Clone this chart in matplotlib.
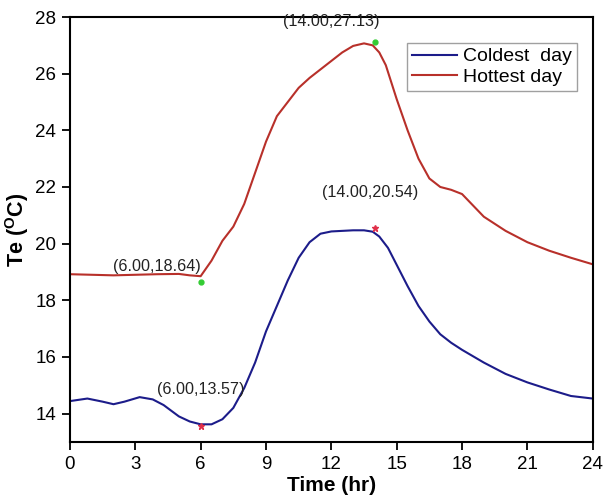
import numpy as np
import matplotlib
matplotlib.use('Agg')
import matplotlib.pyplot as plt

plt.rcParams['font.family'] = ['Liberation Sans', 'DejaVu Sans']
plt.rcParams['mathtext.fontset'] = 'custom'
plt.rcParams['mathtext.bf'] = 'Liberation Sans:bold'
plt.rcParams['mathtext.rm'] = 'Liberation Sans'

# Coldest day
t_cold = [0, 0.8, 1.5, 2, 2.5, 3.2, 3.8, 4.3, 5, 5.5, 6, 6.5, 7, 7.5, 8, 8.5, 9, 9.5,
          10, 10.5, 11, 11.5, 12, 13, 13.5, 13.9, 14.2, 14.6, 15, 15.5, 16, 16.5, 17, 17.5,
          18, 19, 20, 21, 22, 23, 24]
te_cold = [14.44, 14.53, 14.42, 14.33, 14.42, 14.58, 14.5, 14.3, 13.9, 13.72, 13.62, 13.62,
           13.8, 14.2, 14.9, 15.8, 16.9, 17.8, 18.7, 19.5, 20.05, 20.35, 20.43, 20.47, 20.47,
           20.42, 20.25, 19.85, 19.25, 18.5, 17.8, 17.25, 16.8, 16.5, 16.25, 15.8, 15.4,
           15.1, 14.85, 14.62, 14.53]

# Hottest day
t_hot = [0, 1, 2, 3, 4, 5, 5.5, 6, 6.5, 7, 7.5, 8, 8.5, 9, 9.5, 10, 10.5, 11, 12, 12.5, 13,
         13.5, 13.9, 14.2, 14.5, 15, 15.5, 16, 16.5, 17, 17.5, 18, 18.5, 19, 20, 21, 22, 23, 24]
te_hot = [18.92, 18.9, 18.88, 18.9, 18.92, 18.93, 18.88, 18.85, 19.4, 20.1, 20.6, 21.4,
          22.5, 23.6, 24.5, 25.0, 25.5, 25.85, 26.45, 26.75, 26.98, 27.07, 27.0, 26.75,
          26.3, 25.1, 24.0, 23.0, 22.3, 22.0, 21.9, 21.75, 21.35, 20.95, 20.45, 20.05, 19.75,
          19.5, 19.27]

# marked extremes
hot_pts = [(6.00, 18.64), (14.00, 27.13)]
cold_pts = [(6.00, 13.57), (14.00, 20.54)]
labels_xy = [(4.0, 19.2), (12.0, 27.85), (6.0, 14.85), (13.8, 21.8)]

fig = plt.figure(figsize=(6.03, 5.01), dpi=100)
ax = fig.add_axes([0.116, 0.118, 0.867, 0.848])

ax.plot(t_cold, te_cold, color='#1c1c8a', lw=1.5, label='Coldest  day')
ax.plot(t_hot, te_hot, color='#b8302a', lw=1.5, label='Hottest day')

for x, y in hot_pts:
    ax.plot(x, y, 'o', color='#33cc33', ms=3.5, zorder=5)
for x, y in cold_pts:
    ax.plot(x, y, '*', color='#e0304a', ms=5, zorder=5)

for (x, y), (lx, ly) in zip(hot_pts + cold_pts, labels_xy):
    ax.text(lx, ly, '(%.2f,%.2f)' % (x, y), ha='center', va='center', fontsize=11.6,
            color='#222222')

ax.set_xlim(0, 24)
ax.set_ylim(13, 28)
ax.set_xticks(np.arange(0, 25, 3))
ax.set_yticks(np.arange(14, 29, 2))
ax.tick_params(direction='out', length=6, width=1.3, labelsize=13.5, pad=4)
for s in ax.spines.values():
    s.set_linewidth(1.5)

ax.set_xlabel('Time (hr)', fontsize=15, fontweight='bold', labelpad=2)
ax.set_ylabel('Te ($\\mathbf{^{O}}$C)', fontsize=15.5, fontweight='bold', labelpad=3)

leg = ax.legend(loc='upper right', bbox_to_anchor=(0.969, 0.939), fontsize=14,
                fancybox=False, edgecolor='#888888', handlelength=2.3,
                borderpad=0.25, labelspacing=0.15, handletextpad=0.3, borderaxespad=0)
leg.get_frame().set_linewidth(1.0)

fig.savefig('out.png', dpi=100)
